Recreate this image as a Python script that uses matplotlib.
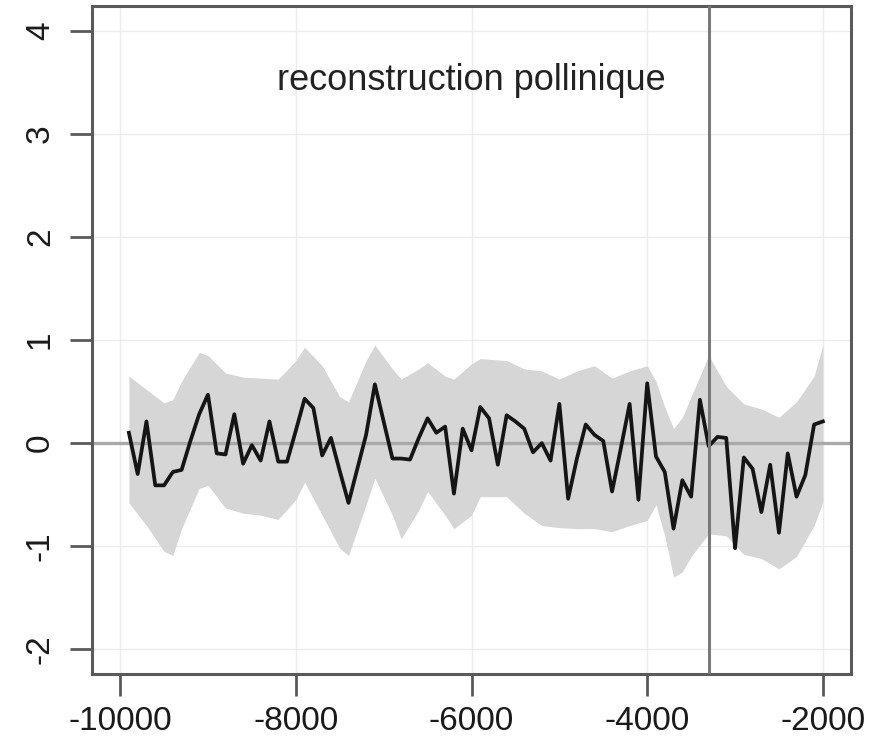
import numpy as np
import matplotlib.pyplot as plt

plt.rcParams['font.family'] = ['Liberation Sans', 'DejaVu Sans']

# reconstruction (every 100 years, -9900 .. -2000)
years = np.arange(-9900, -1999, 100)
recon = [0.10, -0.30, 0.21, -0.41, -0.41, -0.28, -0.26, 0.02, 0.28, 0.47,
         -0.10, -0.11, 0.28, -0.20, -0.02, -0.17, 0.21, -0.18, -0.18, 0.12,
         0.43, 0.34, -0.12, 0.05, -0.27, -0.58, -0.25, 0.08, 0.57, 0.21,
         -0.15, -0.15, -0.16, 0.05, 0.24, 0.10, 0.16, -0.49, 0.14, -0.07,
         0.35, 0.24, -0.21, 0.27, 0.21, 0.14, -0.09, 0.00, -0.17, 0.38,
         -0.54, -0.15, 0.18, 0.08, 0.02, -0.47, -0.05, 0.38, -0.55, 0.58,
         -0.13, -0.28, -0.83, -0.36, -0.52, 0.42, -0.03, 0.06, 0.05, -1.02,
         -0.14, -0.25, -0.67, -0.21, -0.87, -0.10, -0.52, -0.31, 0.18, 0.21]

# uncertainty envelope
band_years = [-9900, -9700, -9500, -9400, -9300, -9100, -9000, -8800, -8600,
              -8400, -8200, -8000, -7900, -7700, -7500, -7400, -7200, -7100,
              -6900, -6800, -6600, -6500, -6300, -6200, -6000, -5900, -5600,
              -5400, -5200, -5000, -4800, -4600, -4400, -4200, -4000, -3900,
              -3800, -3700, -3600, -3500, -3300, -3100, -2900, -2700, -2500,
              -2300, -2100, -2000]
band_upper = [0.65, 0.52, 0.39, 0.42, 0.60, 0.88, 0.85, 0.68, 0.64,
              0.63, 0.62, 0.80, 0.93, 0.75, 0.45, 0.40, 0.80, 0.95,
              0.72, 0.62, 0.72, 0.78, 0.65, 0.62, 0.77, 0.82, 0.80,
              0.72, 0.70, 0.62, 0.70, 0.75, 0.63, 0.70, 0.75, 0.60,
              0.35, 0.14, 0.25, 0.45, 0.85, 0.55, 0.38, 0.33, 0.25,
              0.40, 0.65, 0.95]
band_lower = [-0.58, -0.80, -1.05, -1.09, -0.83, -0.44, -0.41, -0.63, -0.68,
              -0.70, -0.74, -0.55, -0.38, -0.70, -1.02, -1.09, -0.60, -0.34,
              -0.70, -0.93, -0.65, -0.47, -0.70, -0.83, -0.70, -0.52, -0.52,
              -0.68, -0.80, -0.82, -0.83, -0.83, -0.86, -0.80, -0.75, -0.60,
              -0.90, -1.30, -1.25, -1.10, -0.88, -0.90, -1.08, -1.12, -1.22,
              -1.10, -0.80, -0.57]

vline_year = -3300
xticks = [-10000, -8000, -6000, -4000, -2000]
yticks = [-2, -1, 0, 1, 2, 3, 4]

fig = plt.figure(figsize=(8.73, 7.56), dpi=100)
ax = fig.add_axes([92 / 873, 82 / 756, 759 / 873, 668 / 756])

# R-like grid
for xt in xticks:
    ax.axvline(xt, color='#ececec', lw=1, zorder=0)
for yt in yticks:
    ax.axhline(yt, color='#ececec', lw=1, zorder=0)

ax.fill_between(band_years, band_lower, band_upper, color='#d6d6d6', lw=0, zorder=1)
ax.axhline(0, color='#a9a9a9', lw=2.4, zorder=2)
ax.plot(years, recon, color='#151515', lw=2.7, zorder=3)
ax.axvline(vline_year, color='#7a7a7a', lw=2.2, zorder=4)

ax.text(-6000, 3.52, 'reconstruction pollinique', ha='center', va='center',
        fontsize=26, color='#222222')

ax.set_xlim(-10320, -1680)
ax.set_ylim(-2.24, 4.24)
ax.set_xticks(xticks)
ax.set_xticklabels([str(v) for v in xticks])
ax.set_yticks(yticks)
ax.set_yticklabels([str(v) for v in yticks], rotation=90, va='center')

for s in ax.spines.values():
    s.set_color('#5a5a5a')
    s.set_linewidth(2.2)
ax.tick_params(axis='both', length=16, width=2, color='#5a5a5a',
               labelsize=24, labelcolor='#1a1a1a')
ax.tick_params(axis='x', pad=7)
ax.tick_params(axis='y', pad=10)

fig.savefig('out.png', dpi=100)
